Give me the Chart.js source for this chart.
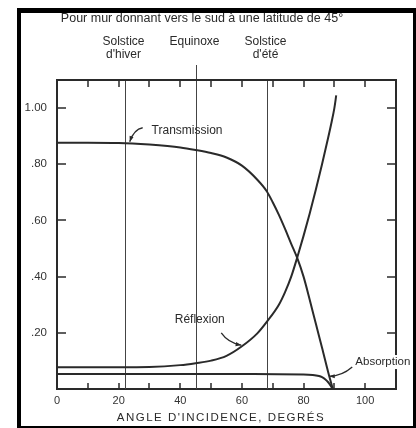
<!DOCTYPE html>
<html>
<head>
<meta charset="utf-8">
<script src="https://cdn.jsdelivr.net/npm/chart.js@4.4.1/dist/chart.umd.min.js"></script>
<style>
  html, body { margin: 0; padding: 0; background: #fff; }
  #wrap { position: relative; width: 416px; height: 428px; }
</style>
</head>
<body>
<div id="wrap"><canvas id="chart" width="416" height="428"></canvas></div>
<script>
// values
const transAngles = [0, 10, 20, 30, 40, 45, 50, 55, 60, 65, 68, 70, 72, 74, 76, 78, 80, 82, 84, 86, 88, 89.5];
const transValues = [0.877, 0.877, 0.876, 0.870, 0.860, 0.851, 0.840, 0.824, 0.795, 0.745, 0.705, 0.665, 0.620, 0.570, 0.517, 0.465, 0.400, 0.318, 0.232, 0.147, 0.060, 0.0];

const reflexAngles = [0, 10, 20, 30, 40, 45, 50, 55, 60, 65, 68, 72, 74, 76, 78, 80, 82, 84, 86, 88, 89, 90, 90.6];
const reflexValues = [0.077, 0.077, 0.077, 0.078, 0.085, 0.092, 0.101, 0.118, 0.152, 0.198, 0.238, 0.300, 0.345, 0.400, 0.470, 0.545, 0.625, 0.710, 0.800, 0.895, 0.945, 1.000, 1.045];

const absorpAngles = [0, 20, 40, 60, 80, 83, 85, 86, 87, 88, 88.8, 89.5];
const absorpValues = [0.053, 0.053, 0.053, 0.053, 0.052, 0.050, 0.046, 0.042, 0.035, 0.024, 0.012, 0.0];

const xTicks = [0, 20, 40, 60, 80, 100];
const yTicks = [0.2, 0.4, 0.6, 0.8, 1.0];
const yTickLabels = ['.20', '.40', '.60', '.80', '1.00'];

const eventAngles = [22, 45, 68];
const eventLabels = [['Solstice', "d'hiver"], ['Equinoxe'], ['Solstice', "d'été"]];

const titleText = 'Pour mur donnant vers le sud à une latitude de 45°';
const xTitle = "ANGLE D'INCIDENCE, DEGRÉS";

function toPoints(xs, ys) {
  return xs.map((x, i) => ({ x: x, y: ys[i] }));
}

const ink = '#2a2a2a';
const font = '"Liberation Sans", Arial, sans-serif';

// arrow from (x0,y0) via (cx,cy) to (x1,y1), arrowhead at the end
function arrow(ctx, x0, y0, cx, cy, x1, y1) {
  ctx.beginPath();
  ctx.moveTo(x0, y0);
  ctx.quadraticCurveTo(cx, cy, x1, y1);
  ctx.stroke();
  const a = Math.atan2(y1 - cy, x1 - cx);
  ctx.beginPath();
  ctx.moveTo(x1, y1);
  ctx.lineTo(x1 - 6 * Math.cos(a - 0.35), y1 - 6 * Math.sin(a - 0.35));
  ctx.lineTo(x1 - 6 * Math.cos(a + 0.35), y1 - 6 * Math.sin(a + 0.35));
  ctx.closePath();
  ctx.fill();
}

const decorPlugin = {
  id: 'decor',
  beforeDraw(chart) {
    const ctx = chart.ctx;
    ctx.save();
    ctx.fillStyle = '#fff';
    ctx.fillRect(0, 0, chart.width, chart.height);
    ctx.restore();
  },
  beforeDatasetsDraw(chart) {
    const ctx = chart.ctx;
    const xs = chart.scales.x;
    const area = chart.chartArea;
    ctx.save();
    ctx.strokeStyle = '#444';
    ctx.lineWidth = 1;
    ctx.fillStyle = ink;
    ctx.font = '12px ' + font;
    ctx.textAlign = 'center';
    ctx.textBaseline = 'middle';
    eventAngles.forEach((a, i) => {
      const px = Math.round(xs.getPixelForValue(a)) + 0.5;
      const top = i === 1 ? area.top - 15 : area.top;
      ctx.beginPath();
      ctx.moveTo(px, top);
      ctx.lineTo(px, area.bottom);
      ctx.stroke();
      eventLabels[i].forEach((t, j) => {
        ctx.fillText(t, px - 2, 42 + j * 13);
      });
    });
    ctx.restore();
  },
  afterDatasetsDraw(chart) {
    const ctx = chart.ctx;
    const xs = chart.scales.x;
    const ys = chart.scales.y;
    const area = chart.chartArea;
    const px = v => xs.getPixelForValue(v);
    const py = v => ys.getPixelForValue(v);
    ctx.save();
    ctx.strokeStyle = ink;
    ctx.lineWidth = 2;
    // top and right sides of the box
    ctx.beginPath();
    ctx.moveTo(area.left, area.top);
    ctx.lineTo(area.right, area.top);
    ctx.lineTo(area.right, area.bottom);
    ctx.stroke();
    // inward tick marks
    ctx.lineWidth = 1.5;
    for (let v = 10; v <= 100; v += 10) {
      const x = Math.round(px(v));
      ctx.beginPath();
      ctx.moveTo(x, area.bottom);
      ctx.lineTo(x, area.bottom - 6);
      ctx.moveTo(x, area.top);
      ctx.lineTo(x, area.top + 7);
      ctx.stroke();
    }
    yTicks.forEach(v => {
      const y = Math.round(py(v));
      ctx.beginPath();
      ctx.moveTo(area.left, y);
      ctx.lineTo(area.left + 9, y);
      ctx.moveTo(area.right, y);
      ctx.lineTo(area.right - 9, y);
      ctx.stroke();
    });

    // title lines
    ctx.fillStyle = ink;
    ctx.font = '12.5px ' + font;
    ctx.textAlign = 'center';
    ctx.textBaseline = 'middle';
    ctx.fillText(titleText, 202, 19);
    ctx.letterSpacing = '1.5px';
    ctx.font = '11.5px ' + font;
    ctx.fillText(xTitle, 221, 418);
    ctx.letterSpacing = '0px';

    // curve labels and arrows
    ctx.font = '12px ' + font;
    ctx.textAlign = 'left';
    ctx.lineWidth = 1.3;
    ctx.fillText('Transmission', px(30.7), py(0.921));
    arrow(ctx, px(27.8), py(0.930), px(25), py(0.925), px(23.6), py(0.880));

    ctx.fillText('Réflexion', px(38.2), py(0.245));
    arrow(ctx, px(53.3), py(0.200), px(55.5), py(0.165), px(59.8), py(0.156));

    ctx.font = '11.5px ' + font;
    const ax = px(96.8), ay = py(0.096);
    const w = ctx.measureText('Absorption').width;
    ctx.fillStyle = '#fff';
    ctx.fillRect(ax - 1, ay - 7, w + 2, 14);
    ctx.fillStyle = ink;
    ctx.fillText('Absorption', ax, ay);
    arrow(ctx, px(95.8), py(0.078), px(92.5), py(0.046), px(88.3), py(0.045));

    // black photo frame
    ctx.fillStyle = '#000';
    ctx.fillRect(17, 8, 4, 420);
    ctx.fillRect(17, 8, 399, 5);
    ctx.fillRect(413, 8, 3, 420);
    ctx.fillRect(17, 426, 399, 2);
    ctx.restore();
  }
};

const lineStyle = {
  borderColor: ink,
  borderWidth: 2,
  pointRadius: 0,
  fill: false,
  cubicInterpolationMode: 'monotone'
};

new Chart(document.getElementById('chart'), {
  type: 'line',
  data: {
    datasets: [
      Object.assign({ label: 'Transmission', data: toPoints(transAngles, transValues) }, lineStyle),
      Object.assign({ label: 'Réflexion', data: toPoints(reflexAngles, reflexValues), clip: false }, lineStyle),
      Object.assign({ label: 'Absorption', data: toPoints(absorpAngles, absorpValues) }, lineStyle)
    ]
  },
  options: {
    responsive: false,
    animation: false,
    layout: { padding: { top: 80, right: 20, left: 0, bottom: 0 } },
    plugins: { legend: { display: false }, tooltip: { enabled: false } },
    scales: {
      x: {
        type: 'linear',
        min: 0,
        max: 110,
        afterFit: s => { s.height = 39; },
        afterBuildTicks: s => { s.ticks = xTicks.map(v => ({ value: v })); },
        grid: { display: false, drawTicks: false },
        border: { display: true, color: ink, width: 2 },
        ticks: { padding: 5, color: '#333', font: { family: font, size: 11 }, maxRotation: 0 }
      },
      y: {
        min: 0,
        max: 1.1,
        afterFit: s => { s.width = 57; },
        afterBuildTicks: s => { s.ticks = yTicks.map(v => ({ value: v })); },
        grid: { display: false, drawTicks: false },
        border: { display: true, color: ink, width: 2 },
        ticks: {
          padding: 10,
          color: '#333',
          font: { family: font, size: 11.5 },
          callback: (v) => {
            const i = yTicks.findIndex(t => Math.abs(t - v) < 1e-6);
            return i >= 0 ? yTickLabels[i] : '';
          }
        }
      }
    }
  },
  plugins: [decorPlugin]
});
</script>
</body>
</html>
